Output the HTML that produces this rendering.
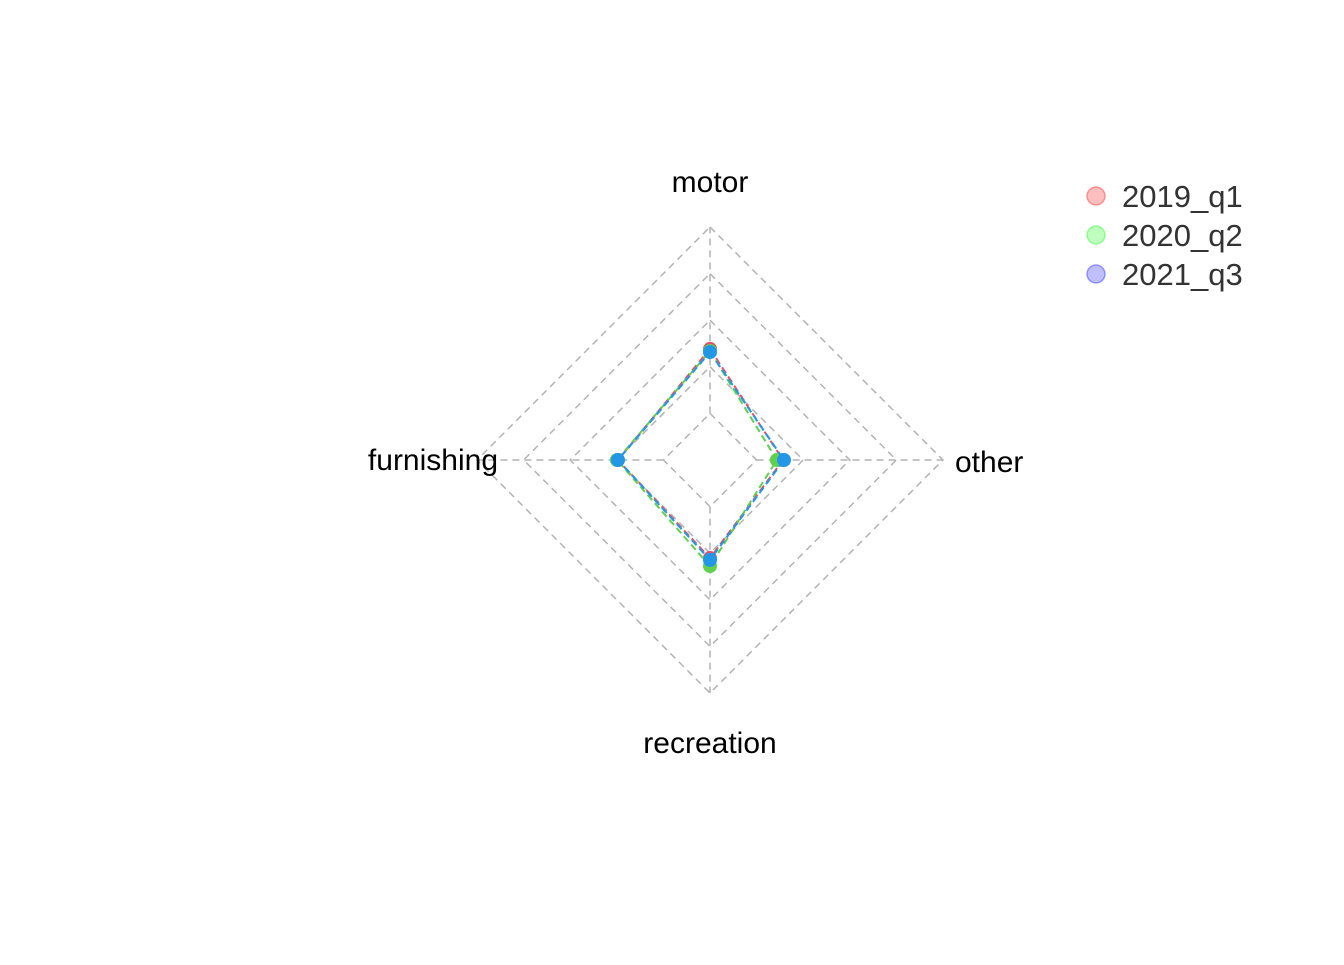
<!DOCTYPE html>
<html><head><meta charset="utf-8"><style>
html,body{margin:0;padding:0;background:#fff;}
svg text{font-family:"Liberation Sans",Arial,sans-serif;}
</style></head><body>
<svg id="chart" width="1344" height="960">
<g id="grid"></g>
<g id="labels"></g>
<g id="series"></g>
<g id="legend"></g>
</svg>
<script>
const categories = ["motor","other","recreation","furnishing"];
const seriesNames = ["2019_q1","2020_q2","2021_q3"];
const s2019 = [0.346,0.142,0.276,0.244];
const s2020 = [0.335,0.109,0.319,0.249];
const s2021 = [0.329,0.147,0.286,0.244];
const gridLevels = [0,0.25,0.5,0.75,1];

const NS="http://www.w3.org/2000/svg";
const cx=710, cy=460, R=233;
const colors=["#DF536B","#61D04F","#2297E6"];
const legendFill=["rgba(255,0,0,0.25)","rgba(0,255,0,0.25)","rgba(0,0,255,0.25)"];
const legendStroke=["rgba(255,0,0,0.35)","rgba(0,255,0,0.35)","rgba(0,0,255,0.35)"];
function rScale(v){return R*(0.2+0.8*v);}
function angle(i){return -Math.PI/2 + i*2*Math.PI/categories.length;}
function pt(i,v){const r=rScale(v),a=angle(i);return [cx+r*Math.cos(a), cy+r*Math.sin(a)];}
function mk(tag,attrs,parent){const e=document.createElementNS(NS,tag);for(const k in attrs)e.setAttribute(k,attrs[k]);parent.appendChild(e);return e;}

const grid=document.getElementById('grid');
gridLevels.forEach((g,gi)=>{
  const p=categories.map((c,i)=>pt(i,g).join(',')).join(' ');
  const e=mk('polygon',{points:p,fill:'none',stroke:'#b3b3b3','stroke-width':1.5,'stroke-dasharray':'7,5'},grid);
  
  
});
categories.forEach((c,i)=>{
  const a=pt(i,0),b=pt(i,1);
  const e=mk('line',{x1:a[0],y1:a[1],x2:b[0],y2:b[1],stroke:'#b3b3b3','stroke-width':1.5,'stroke-dasharray':'7,5'},grid);
  
  
});
const labels=document.getElementById('labels');
const labelPos=[[710,192,'middle'],[955,472,'start'],[710,753,'middle'],[498,470,'end']];
categories.forEach((c,i)=>{
  const t=mk('text',{x:labelPos[i][0],y:labelPos[i][1],'text-anchor':labelPos[i][2],'font-size':30,'textLength':null,fill:'#000'},labels);
  t.removeAttribute('textLength');
  t.textContent=c;
  
  
});
const series=document.getElementById('series');
[s2019,s2020,s2021].forEach((vals,si)=>{
  const g=mk('g',{},series);
  
  
  const p=vals.map((v,i)=>pt(i,v).join(',')).join(' ');
  const pl=mk('polygon',{points:p,fill:'none',stroke:colors[si],'stroke-width':2,'stroke-dasharray':'7,4'},g);
  
  
  vals.forEach((v,i)=>{
    const q=pt(i,v);
    const c=mk('circle',{cx:q[0],cy:q[1],r:7,fill:colors[si]},g);
    
    
  });
});
const legend=document.getElementById('legend');
seriesNames.forEach((n,i)=>{
  const y=196+i*39;
  const c=mk('circle',{cx:1096,cy:y,r:9,fill:legendFill[i],stroke:legendStroke[i],'stroke-width':1.5},legend);
  
  
  const t=mk('text',{x:1122,y:y+11,'font-size':31,fill:'#333'},legend);
  t.textContent=n;
  
  
});
</script>
</body></html>
